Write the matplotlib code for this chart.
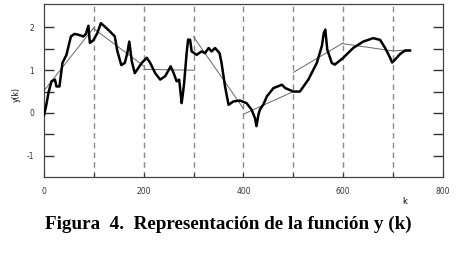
import matplotlib
matplotlib.use("Agg")
import matplotlib.pyplot as plt
import numpy as np

# thick curve y(k)
k = [0, 4, 9, 15, 22, 25, 31, 37, 45, 54, 61, 69, 79, 84, 89, 92, 99, 107,
     114, 122, 132, 142, 147, 155, 162, 167, 171, 176, 182, 189, 196, 206,
     213, 223, 233, 243, 254, 260, 266, 271, 274, 276, 279, 281, 286, 289,
     293, 296, 306, 316, 323, 330, 336, 343, 352, 356, 363, 370, 380, 393,
     406, 416, 423, 426, 430, 433, 440, 447, 460, 477, 484, 500, 513, 530,
     547, 557, 561, 564, 568, 577, 583, 600, 620, 640, 660, 674, 684, 694,
     698, 704, 714, 724, 734]
yk = [-0.05, 0.15, 0.47, 0.74, 0.78, 0.62, 0.62, 1.17, 1.36, 1.79, 1.85, 1.83,
      1.79, 1.85, 2.04, 1.64, 1.70, 1.87, 2.10, 2.02, 1.91, 1.79, 1.45, 1.12,
      1.17, 1.40, 1.67, 1.21, 0.93, 1.05, 1.17, 1.29, 1.17, 0.93, 0.78, 0.86,
      1.09, 0.93, 0.74, 0.78, 0.45, 0.23, 0.50, 0.70, 1.40, 1.72, 1.71, 1.44,
      1.36, 1.44, 1.40, 1.52, 1.44, 1.52, 1.40, 1.17, 0.62, 0.19, 0.27, 0.29,
      0.23, 0.08, -0.12, -0.31, -0.04, 0.08, 0.20, 0.39, 0.58, 0.66, 0.58,
      0.50, 0.50, 0.78, 1.17, 1.56, 1.87, 1.95, 1.48, 1.17, 1.13, 1.29, 1.52,
      1.67, 1.75, 1.71, 1.52, 1.29, 1.18, 1.25, 1.38, 1.46, 1.46]

# piecewise linear approximation (thin line)
seg_k0 = [0, 100, 200, 300, 400, 500, 600, 700]
seg_k1 = [100, 200, 300, 400, 500, 600, 700, 734]
seg_y0 = [0.52, 1.97, 1.02, 1.78, -0.03, 0.95, 1.62, 1.45]
seg_y1 = [2.00, 1.10, 1.00, 0.10, 0.50, 1.64, 1.45, 1.48]

vlines = [100, 200, 300, 400, 500, 600, 700]
xtick_pos = [0, 100, 200, 300, 400, 500, 600, 700, 800]
xtick_lab = ["0", "", "200", "", "400", "", "600", "", "800"]
ytick_pos = [-1, -0.5, 0, 0.5, 1, 1.5, 2]
ytick_lab = ["-1", "", "0", "", "1", "", "2"]

fig = plt.figure(figsize=(4.67, 2.56), dpi=100)
ax = fig.add_axes([0.0942, 0.3086, 0.8544, 0.6758])

for v in vlines:
    ax.axvline(v, color="#8a8a8a", lw=1.0, ls=(0, (4, 3)), zorder=1)

for a, b, c, d in zip(seg_k0, seg_k1, seg_y0, seg_y1):
    ax.plot([a, b], [c, d], color="#666666", lw=0.7, zorder=2)

ax.plot(k, yk, color="black", lw=1.8, zorder=3)

ax.set_xlim(0, 800)
ax.set_ylim(-1.5, 2.55)
ax.set_xticks(xtick_pos)
ax.set_xticklabels(xtick_lab)
ax.set_yticks(ytick_pos)
ax.set_yticklabels(ytick_lab)
ax.tick_params(axis="y", direction="in", length=7, width=1.0, left=True,
               right=True, labelsize=5.5, pad=7, colors="#333333")
ax.tick_params(axis="x", direction="in", length=3, width=0.8, labelsize=5.5,
               pad=7, colors="#333333")
for s in ax.spines.values():
    s.set_color("#444444")
    s.set_linewidth(0.9)

ax.text(-0.07, 0.474, "y(k)", transform=ax.transAxes, rotation=90,
        ha="center", va="center", fontsize=5.5)
ax.text(0.905, -0.14, "k", transform=ax.transAxes, ha="center",
        va="center", fontsize=6)

fig.text(0.489, 0.123, "Figura  4.  Representación de la función y (k)",
         ha="center", va="center", fontsize=13.8, fontweight="bold",
         family="Liberation Serif")

fig.savefig("out.png", dpi=100)
